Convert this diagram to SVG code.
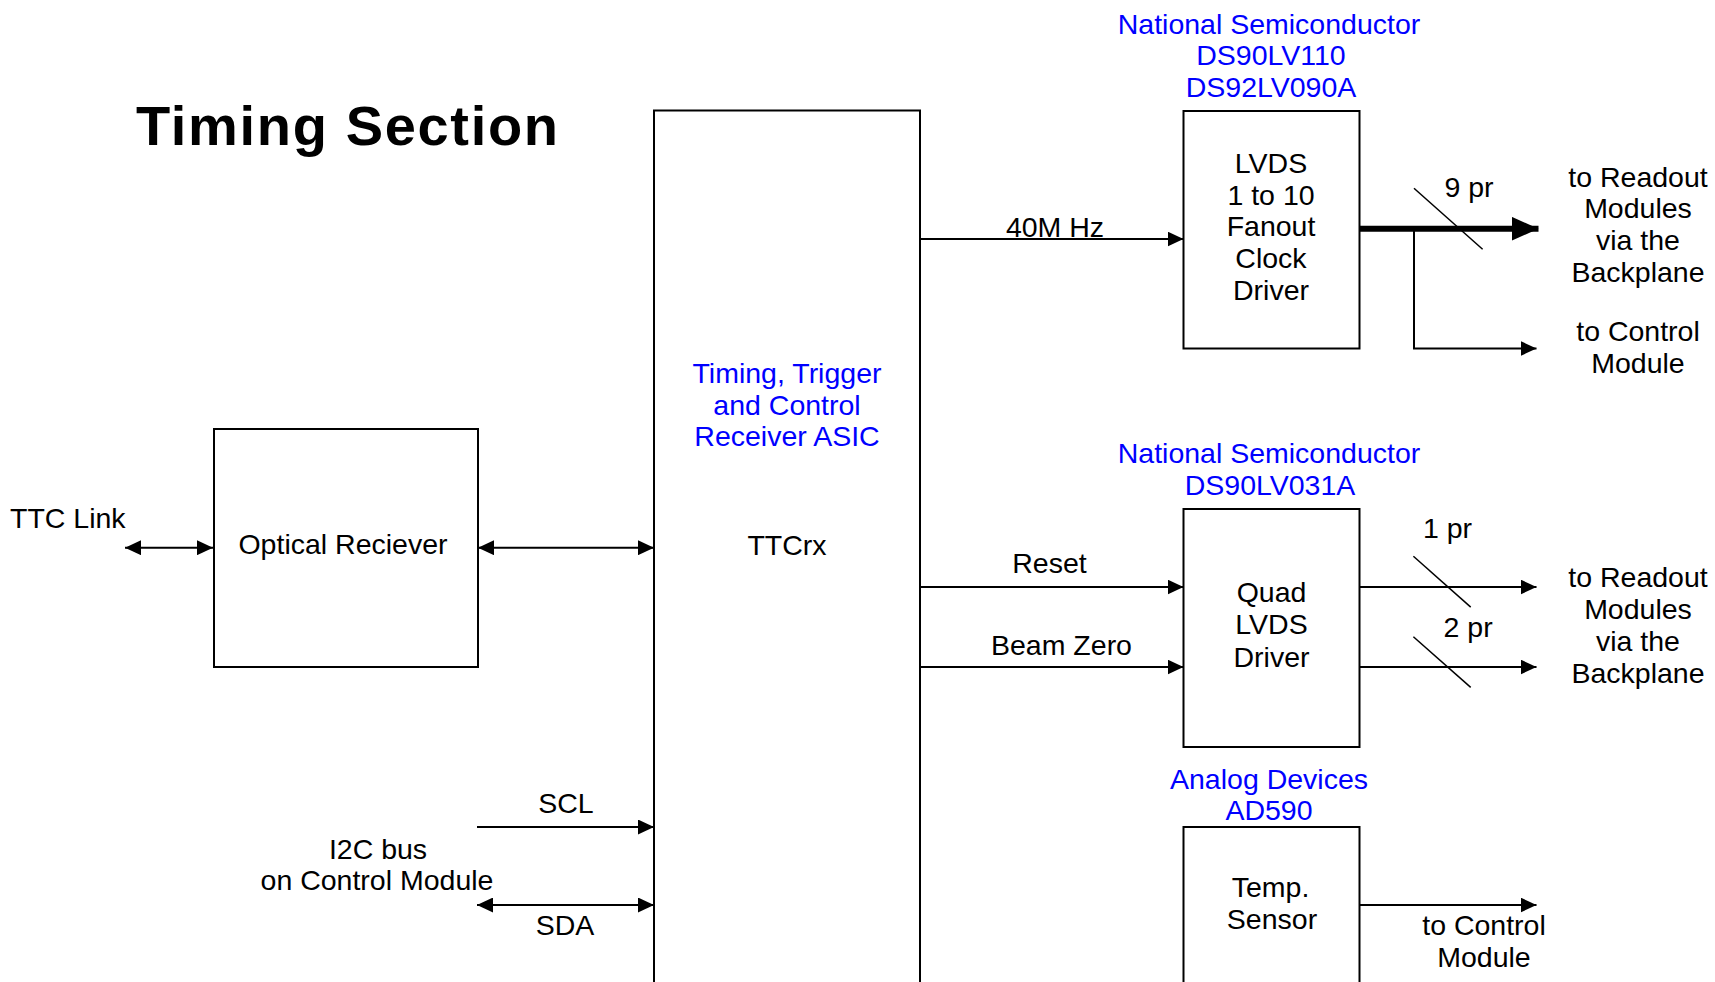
<svg xmlns="http://www.w3.org/2000/svg" width="1715" height="982" viewBox="0 0 1715 982">
<defs>
<style>
text{font-family:"Liberation Sans",Arial,sans-serif;font-size:28.5px;fill:#000}
.c{text-anchor:middle}
.b{fill:#0000FF}
.box{fill:#fff;stroke:#000;stroke-width:2}
.ln{fill:none;stroke:#000;stroke-width:2}
.sl{fill:none;stroke:#000;stroke-width:1.5}
.thick{fill:none;stroke:#000;stroke-width:6}
</style>
<marker id="ah" markerUnits="userSpaceOnUse" viewBox="0 0 16 15" markerWidth="16" markerHeight="15" refX="16" refY="7.5" orient="auto-start-reverse"><path d="M0,0 L16,7.5 L0,15 Z" fill="#000"/></marker>
<marker id="big" markerUnits="userSpaceOnUse" viewBox="0 0 27 24" markerWidth="27" markerHeight="24" refX="27" refY="12" orient="auto"><path d="M0,0 L27,12 L0,24 Z" fill="#000"/></marker>
</defs>
<rect width="1715" height="982" fill="#fff"/>
<text x="136" y="145" style="font-size:56px;font-weight:bold" textLength="422" lengthAdjust="spacing">Timing Section</text>
<g id="connectors">
<path class="ln" d="M125,547.7 H213" marker-start="url(#ah)" marker-end="url(#ah)"/>
<path class="ln" d="M478,547.7 H654" marker-start="url(#ah)" marker-end="url(#ah)"/>
<path class="ln" d="M477,827 H654" marker-end="url(#ah)"/>
<path class="ln" d="M477,905 H654" marker-start="url(#ah)" marker-end="url(#ah)"/>
<path class="ln" d="M920,239 H1183.5" marker-end="url(#ah)"/>
<path class="ln" d="M920,587 H1183.5" marker-end="url(#ah)"/>
<path class="ln" d="M920,667 H1183.5" marker-end="url(#ah)"/>
<path class="thick" d="M1359.5,228.7 H1538.5" marker-end="url(#big)"/>
<path class="ln" d="M1414,228.7 V348.5 H1536.5" marker-end="url(#ah)"/>
<path class="sl" d="M1414,188.3 L1482.6,249.3"/>
<path class="ln" d="M1360,587 H1536.5" marker-end="url(#ah)"/>
<path class="ln" d="M1360,667 H1536.5" marker-end="url(#ah)"/>
<path class="sl" d="M1413.4,556.2 L1470.7,607.1"/>
<path class="sl" d="M1413.4,636.8 L1470.7,687.4"/>
<path class="ln" d="M1360,905 H1536.5" marker-end="url(#ah)"/>
<text x="10" y="528">TTC Link</text>
<text class="c" x="566" y="812.7">SCL</text>
<text class="c" x="378" y="859">I2C bus</text>
<text class="c" x="377" y="889.5">on Control Module</text>
<text class="c" x="565" y="935">SDA</text>
<text class="c" x="1055" y="236.5">40M Hz</text>
<text class="c" x="1049.5" y="572.5">Reset</text>
<text class="c" x="1061.5" y="655">Beam Zero</text>
<text x="1444.4" y="196.7">9 pr</text>
<text class="c" x="1638" y="186.7">to Readout</text>
<text class="c" x="1638" y="218.3">Modules</text>
<text class="c" x="1638" y="250">via the</text>
<text class="c" x="1638" y="281.7">Backplane</text>
<text class="c" x="1638" y="341">to Control</text>
<text class="c" x="1638" y="373">Module</text>
<text x="1423" y="538.3">1 pr</text>
<text x="1443.6" y="636.8">2 pr</text>
<text class="c" x="1638" y="586.7">to Readout</text>
<text class="c" x="1638" y="619">Modules</text>
<text class="c" x="1638" y="651">via the</text>
<text class="c" x="1638" y="683.4">Backplane</text>
<text class="c" x="1484" y="935">to Control</text>
<text class="c" x="1484" y="966.6">Module</text>
</g>
<g id="optical">
<rect class="box" x="214" y="429" width="264" height="238"/>
<text class="c" x="343" y="554">Optical Reciever</text>
</g>
<g id="ttcrx">
<rect class="box" x="654" y="110.5" width="266" height="900"/>
<text class="c b" x="787" y="383">Timing, Trigger</text>
<text class="c b" x="787" y="414.5">and Control</text>
<text class="c b" x="787" y="446">Receiver ASIC</text>
<text class="c" x="787" y="555">TTCrx</text>
</g>
<g id="fanout">
<text class="c b" x="1269" y="33.5">National Semiconductor</text>
<text class="c b" x="1271" y="65">DS90LV110</text>
<text class="c b" x="1271" y="96.5">DS92LV090A</text>
<rect class="box" x="1183.5" y="111" width="176" height="237.5"/>
<text class="c" x="1271" y="172.5">LVDS</text>
<text class="c" x="1271" y="204.5">1 to 10</text>
<text class="c" x="1271" y="236">Fanout</text>
<text class="c" x="1271" y="268">Clock</text>
<text class="c" x="1271" y="300">Driver</text>
</g>
<g id="quad">
<text class="c b" x="1269" y="463">National Semiconductor</text>
<text class="c b" x="1270" y="494.6">DS90LV031A</text>
<rect class="box" x="1183.5" y="509" width="176" height="238"/>
<text class="c" x="1271.5" y="602">Quad</text>
<text class="c" x="1271.5" y="634.3">LVDS</text>
<text class="c" x="1271.5" y="666.6">Driver</text>
</g>
<g id="temp">
<text class="c b" x="1269" y="789">Analog Devices</text>
<text class="c b" x="1269" y="819.6">AD590</text>
<rect class="box" x="1183.5" y="827" width="176" height="200"/>
<text class="c" x="1270.5" y="897.4">Temp.</text>
<text class="c" x="1272" y="929">Sensor</text>
</g>
</svg>
